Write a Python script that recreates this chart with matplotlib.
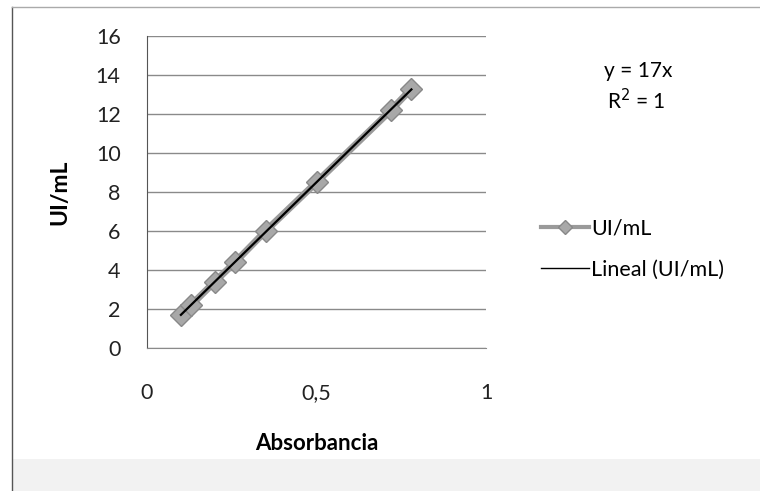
import matplotlib.pyplot as plt
import numpy as np
from matplotlib.lines import Line2D
from matplotlib.patches import Rectangle

plt.rcParams['font.family'] = ['Lato', 'DejaVu Sans']

# datos
absorbancia = [0.10, 0.13, 0.20, 0.26, 0.35, 0.50, 0.72, 0.78]
ui_ml = [1.7, 2.2, 3.4, 4.4, 6.0, 8.5, 12.2, 13.3]
pendiente = 17

fig = plt.figure(figsize=(7.6, 4.91), dpi=100)
fig.patch.set_facecolor('white')
# franja gris inferior y marco
fig.patches.append(Rectangle((0.016, 0.0), 0.984, 0.066, transform=fig.transFigure,
                             facecolor='#f2f2f2', edgecolor='none', zorder=-5))
fig.add_artist(Line2D([0.016, 0.016], [0.0, 0.985], transform=fig.transFigure, color='#555555', lw=1))
fig.add_artist(Line2D([0.016, 1.0], [0.985, 0.985], transform=fig.transFigure, color='#aaaaaa', lw=1))

ax = fig.add_axes([147 / 760, 1 - 348 / 491, (486 - 147) / 760, (348 - 36) / 491])
ax.set_xlim(0, 1)
ax.set_ylim(0, 16)
ax.set_xticks([0, 0.5, 1])
ax.set_xticklabels(['0', '0,5', '1'])
ax.set_yticks(range(0, 17, 2))
ax.yaxis.grid(True, color='#8a8a8a', lw=1)
ax.set_axisbelow(True)
for s in ['top', 'right']:
    ax.spines[s].set_visible(False)
ax.spines['left'].set_color('#555555')
ax.spines['bottom'].set_color('#8a8a8a')
ax.tick_params(length=0, labelsize=15.5, colors='#222222')
ax.tick_params(axis='y', pad=19)
ax.tick_params(axis='x', pad=25)

ax.plot(absorbancia, ui_ml, color='#9a9a9a', lw=5, marker='D', markersize=11,
        markerfacecolor='#a8a8a8', markeredgecolor='#888888', label='UI/mL', zorder=3)
xt = np.array([min(absorbancia), max(absorbancia)])
ax.plot(xt, pendiente * xt, color='black', lw=1.6, label='Lineal (UI/mL)', zorder=4)

ax.set_xlabel('Absorbancia', fontsize=16, fontweight='bold')
ax.set_ylabel('UI/mL', fontsize=16.5, fontweight='bold')
ax.xaxis.set_label_coords(0.5, -0.272)
ax.yaxis.set_label_coords(-0.227, 0.5)

fig.text(638 / 760, 1 - 71 / 491, 'y = 17x', fontsize=15, ha='center', va='center')
fig.text(636 / 760, 1 - 101 / 491, 'R$^2$ = 1', fontsize=15, ha='center', va='center')

h = [Line2D([], [], color='#9a9a9a', lw=3, marker='D', markersize=7,
            markerfacecolor='#a8a8a8', markeredgecolor='#888888'),
     Line2D([], [], color='black', lw=1)]
fig.legend(h, ['UI/mL', 'Lineal (UI/mL)'], loc='upper left',
           bbox_to_anchor=(522 / 760, 1 - 199 / 491), frameon=False, fontsize=15.5,
           handlelength=2.2, handletextpad=0.1, labelspacing=1.0)

plt.savefig('out.png', dpi=100)
